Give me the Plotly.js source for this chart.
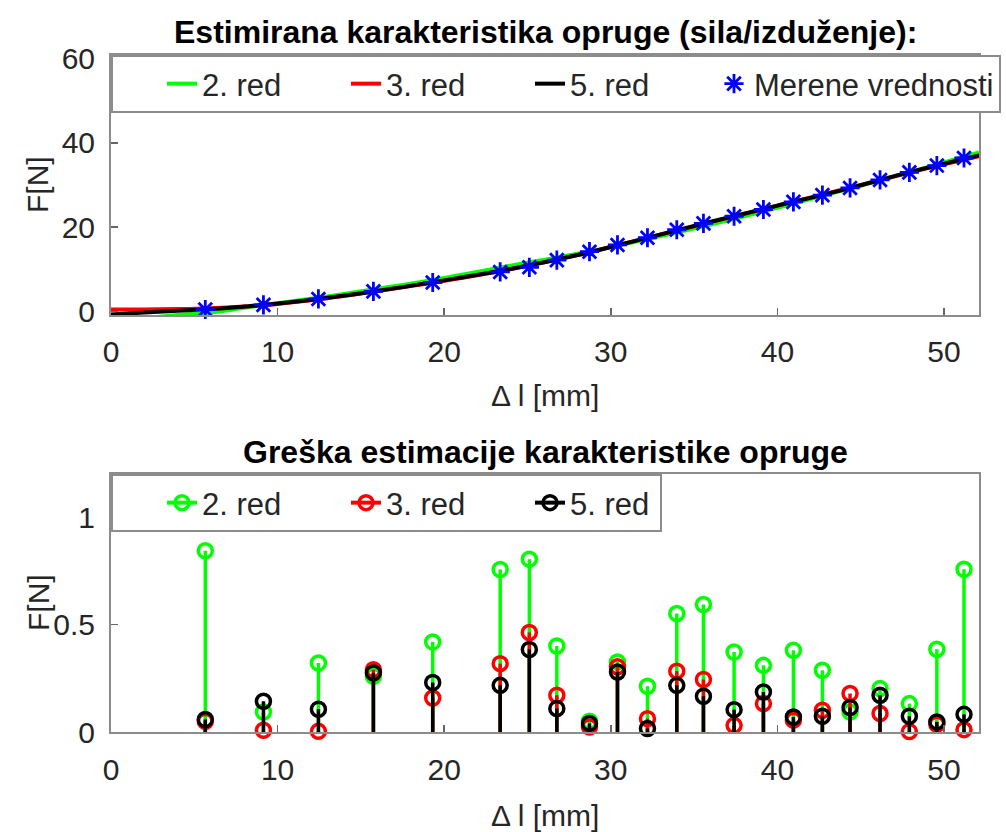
<!DOCTYPE html>
<html>
<head>
<meta charset="utf-8">
<script src="https://cdn.plot.ly/plotly-3.0.1.min.js"></script>
<style>html,body{margin:0;padding:0;background:#fff;}#chart{width:1006px;height:832px;}</style>
</head>
<body>
<div id="chart"></div>
<script>
// ---- data ----
const deltaL = [5.66, 9.15, 12.45, 15.75, 19.31, 23.36, 25.11, 26.76, 28.72, 30.40, 32.20,
                33.96, 35.56, 37.40, 39.16, 40.96, 42.70, 44.36, 46.16, 47.92, 49.57, 51.20];
const measuredF = [0.5, 1.6, 3.0, 4.8, 6.9, 9.4, 10.5, 12.2, 14.2, 15.8, 17.5,
                   19.4, 20.9, 22.6, 24.2, 26.0, 27.6, 29.3, 31.2, 33.0, 34.6, 36.4];

const fitX   = [0, 2, 4, 6, 8, 10, 13, 16, 20, 24, 28, 32, 36, 40, 44, 48, 52.1];
const fit2F  = [-2.6, -1.6, -0.8, -0.2, 0.9, 2.0, 3.6, 5.4, 8.0, 10.9, 13.7, 17.0, 20.6, 24.6, 28.8, 33.1, 37.7];
const fit3F  = [0.5, 0.5, 0.6, 0.8, 1.2, 1.8, 3.2, 4.9, 7.3, 10.1, 13.4, 17.3, 21.2, 25.1, 29.0, 33.0, 36.8];
const fit5F  = [-0.7, -0.2, 0.2, 0.6, 1.2, 1.9, 3.3, 4.9, 7.4, 10.1, 13.4, 17.3, 21.3, 25.1, 28.9, 33.1, 37.0];

const err2 = [0.843, 0.093, 0.321, 0.259, 0.419, 0.756, 0.804, 0.400, 0.050, 0.326, 0.213,
              0.551, 0.593, 0.372, 0.310, 0.380, 0.287, 0.093, 0.202, 0.132, 0.385, 0.757];
const err3 = [0.050, 0.008, 0.003, 0.290, 0.158, 0.318, 0.463, 0.171, 0.023, 0.303, 0.062,
              0.283, 0.244, 0.031, 0.132, 0.055, 0.101, 0.179, 0.086, 0.002, 0.036, 0.011];
const err5 = [0.058, 0.143, 0.106, 0.275, 0.230, 0.217, 0.384, 0.109, 0.040, 0.279, 0.016,
              0.217, 0.166, 0.104, 0.186, 0.070, 0.073, 0.114, 0.171, 0.073, 0.047, 0.082];

const seriesNames = ['2. red', '3. red', '5. red'];
const measuredName = 'Merene vrednosti';
const xTicks = [0, 10, 20, 30, 40, 50];
const yTicksTop = [0, 20, 40, 60];
const yTicksBottom = [0, 0.5, 1];
const yTickTextBottom = ['0', '0.5', '1'];
const titleTop = 'Estimirana karakteristika opruge (sila/izduženje):';
const titleBottom = 'Greška estimacije karakteristike opruge';
const yTitle = 'F[N]';
const xTitle = 'Δ l [mm]';

// ---- styling ----
const FONT = 'Liberation Sans, Arial, Helvetica, sans-serif';
const TXT = '#262626';
const AX = '#8c8c8c';
const colors = ['#00ff00', '#ff0000', '#000000'];
const W = 1006, H = 832;
const px = v => v / W;
const py = v => 1 - v / H;

const traces = [];
// spacer entry for top legend
traces.push({x: [null], y: [null], type: 'scatter', mode: 'lines', name: ' ',
  line: {width: 0, color: 'rgba(0,0,0,0)'}, legendwidth: 4, xaxis: 'x', yaxis: 'y', hoverinfo: 'skip'});
const fits = [fit2F, fit3F, fit5F];
fits.forEach((f, i) => {
  traces.push({x: fitX, y: f, type: 'scatter', mode: 'lines', name: seriesNames[i],
    line: {color: colors[i], width: 4, shape: 'spline'}, xaxis: 'x', yaxis: 'y', legend: 'legend'});
});
traces.push({x: deltaL, y: measuredF, type: 'scatter', mode: 'markers', name: measuredName,
  marker: {symbol: 'asterisk-open', size: 16, color: '#0000ff', line: {color: '#0000ff', width: 2.8}},
  cliponaxis: false, xaxis: 'x', yaxis: 'y', legend: 'legend', legendwidth: 240});

// bottom: stems via error bars
const errs = [err2, err3, err5];
errs.forEach((e, i) => {
  traces.push({x: deltaL, y: e, type: 'scatter', mode: 'markers', showlegend: false,
    marker: {symbol: 'circle-open', size: 14, color: colors[i], line: {color: colors[i], width: 3.5}},
    error_y: {type: 'data', symmetric: false, array: e.map(() => 0), arrayminus: e,
      width: 0, thickness: 3.5, color: colors[i]},
    cliponaxis: false, xaxis: 'x2', yaxis: 'y2'});
});
// legend entries for bottom
traces.push({x: [null], y: [null], type: 'scatter', mode: 'lines', name: ' ',
  line: {width: 0, color: 'rgba(0,0,0,0)'}, legendwidth: 4, xaxis: 'x2', yaxis: 'y2', legend: 'legend2', hoverinfo: 'skip'});
seriesNames.forEach((n, i) => {
  traces.push({x: [null], y: [null], type: 'scatter', mode: 'lines+markers', name: n,
    line: {color: colors[i], width: 4},
    marker: {symbol: 'circle-open', size: 14, color: colors[i], line: {color: colors[i], width: 3.5}},
    xaxis: 'x2', yaxis: 'y2', legend: 'legend2', legendwidth: i === 2 ? 85 : undefined});
});

const axisCommon = {
  showline: true, mirror: true, linecolor: AX, linewidth: 2,
  ticks: 'inside', ticklen: 7, tickwidth: 1.5, tickcolor: '#666',
  showgrid: false, zeroline: false, tickfont: {family: FONT, size: 30, color: TXT}
};

const layout = {
  width: W, height: H,
  margin: {l: 0, r: 0, t: 0, b: 0, autoexpand: false},
  paper_bgcolor: '#fff', plot_bgcolor: '#fff',
  font: {family: FONT, size: 30, color: TXT},
  showlegend: true,
  xaxis: Object.assign({}, axisCommon, {domain: [px(111), px(979)], range: [0, 52.1], anchor: 'y',
    tickvals: xTicks, ticklabelstandoff: 9}),
  yaxis: Object.assign({}, axisCommon, {domain: [py(315), py(55)], range: [-0.8, 60.8], anchor: 'x',
    tickvals: yTicksTop, ticklabelstandoff: 8}),
  xaxis2: Object.assign({}, axisCommon, {domain: [px(111), px(979)], range: [0, 52.1], anchor: 'y2',
    tickvals: xTicks, ticklabelstandoff: 10}),
  yaxis2: Object.assign({}, axisCommon, {domain: [py(732), py(474)], range: [0, 1.2], anchor: 'x2',
    tickvals: yTicksBottom, ticktext: yTickTextBottom, ticklabelstandoff: 8}),
  legend: {x: px(111), y: py(55), xanchor: 'left', yanchor: 'top', orientation: 'h',
    bgcolor: '#fff', bordercolor: AX, borderwidth: 2, entrywidth: 139,
    font: {family: FONT, size: 31, color: TXT}},
  legend2: {x: px(111), y: py(474), xanchor: 'left', yanchor: 'top', orientation: 'h',
    bgcolor: '#fff', bordercolor: AX, borderwidth: 2, entrywidth: 139,
    font: {family: FONT, size: 31, color: TXT}},
  annotations: [
    {text: '<b>' + titleTop + '</b>', x: px(545), y: py(32), xref: 'paper', yref: 'paper',
      showarrow: false, xanchor: 'center', yanchor: 'middle', font: {family: FONT, size: 32, color: '#000'}},
    {text: '<b>' + titleBottom + '</b>', x: px(545), y: py(452), xref: 'paper', yref: 'paper',
      showarrow: false, xanchor: 'center', yanchor: 'middle', font: {family: FONT, size: 32, color: '#000'}},
    {text: yTitle, x: px(38), y: py(185), xref: 'paper', yref: 'paper', textangle: -90,
      showarrow: false, xanchor: 'center', yanchor: 'middle', font: {family: FONT, size: 30, color: TXT}},
    {text: yTitle, x: px(38), y: py(603), xref: 'paper', yref: 'paper', textangle: -90,
      showarrow: false, xanchor: 'center', yanchor: 'middle', font: {family: FONT, size: 30, color: TXT}},
    {text: xTitle, x: px(545), y: py(395), xref: 'paper', yref: 'paper',
      showarrow: false, xanchor: 'center', yanchor: 'middle', font: {family: FONT, size: 30, color: TXT}},
    {text: xTitle, x: px(545), y: py(815), xref: 'paper', yref: 'paper',
      showarrow: false, xanchor: 'center', yanchor: 'middle', font: {family: FONT, size: 30, color: TXT}}
  ]
};

Plotly.newPlot('chart', traces, layout, {staticPlot: true, displayModeBar: false});
</script>
</body>
</html>
